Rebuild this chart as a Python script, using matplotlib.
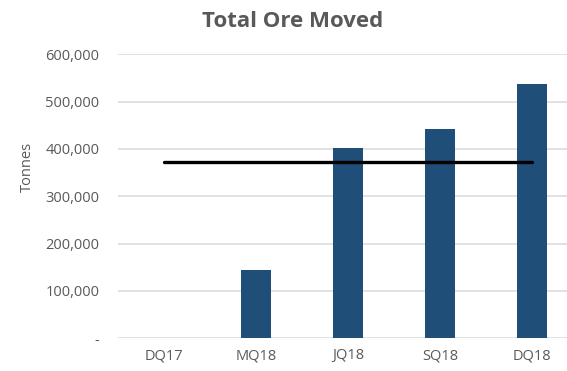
import matplotlib
matplotlib.use("Agg")
import matplotlib.pyplot as plt
from matplotlib.ticker import FuncFormatter

# quarterly ore movement, tonnes
quarters = ["DQ17", "MQ18", "JQ18", "SQ18", "DQ18"]
ore_moved = [0, 144000, 401000, 441500, 536500]
target = 373000

BAR_COLOR = "#1f4e79"
TEXT_COLOR = "#595959"
GRID_COLOR = "#d9d9d9"

plt.rcParams["font.family"] = ["Open Sans", "DejaVu Sans"]

fig = plt.figure(figsize=(5.67, 3.71), dpi=100)
ax = fig.add_axes([118 / 567, 32.7 / 371, 460 / 567, 284 / 371])

x = list(range(len(quarters)))
ax.bar(x, ore_moved, width=0.32, color=BAR_COLOR, zorder=3)
ax.plot([x[0], x[-1]], [target, target], color="black", lw=2.4,
        solid_capstyle="round", zorder=4)

ax.set_xlim(-0.5, len(quarters) - 0.5)
ax.set_ylim(0, 600000)
ax.set_yticks(range(0, 600001, 100000))
ax.yaxis.set_major_formatter(
    FuncFormatter(lambda v, p: "-" if v == 0 else f"{int(v):,}"))
ax.set_xticks(x)
ax.set_xticklabels(quarters)

ax.grid(axis="y", color=GRID_COLOR, lw=1.1, zorder=0)
ax.tick_params(axis="both", length=0, labelsize=10.5, colors=TEXT_COLOR)
ax.tick_params(axis="y", pad=13.5)
ax.tick_params(axis="x", pad=7)
for s in ax.spines.values():
    s.set_visible(False)

fig.text(293 / 567, 0.928, "Total Ore Moved", ha="center", va="baseline",
         fontsize=16, fontweight="bold", color=TEXT_COLOR)
fig.text(27 / 567, (371 - 166.7) / 371, "Tonnes", ha="center", va="center",
         rotation=90, fontsize=10.5, color=TEXT_COLOR)

fig.savefig("out.png", dpi=100)
